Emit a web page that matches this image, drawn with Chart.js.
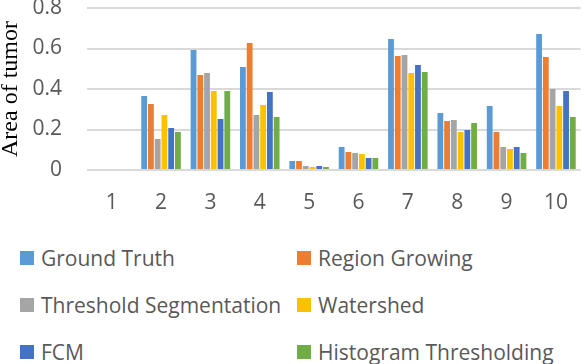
<!DOCTYPE html>
<html>
<head>
<meta charset="utf-8">
<script src="https://cdn.jsdelivr.net/npm/chart.js@4.4.1/dist/chart.umd.min.js"></script>
<style>
  body { margin: 0; background: #fff; }
  #wrap { position: relative; width: 588px; height: 364px; overflow: hidden; }
  #chartBox { position: absolute; left: 0; top: 0; width: 588px; height: 215px; }
  #legend { position: absolute; left: 20px; top: 234px; width: 568px;
    display: grid; grid-template-columns: 277px 290px; grid-auto-rows: 47px;
    font-family: "Open Sans", sans-serif; font-size: 21px; color: #595959; }
  .item { display: flex; align-items: center; white-space: nowrap; }
  .box { width: 14px; height: 14px; margin-right: 7px; flex: none; }
</style>
</head>
<body>
<div id="wrap">
  <div id="chartBox"><canvas id="tumorChart"></canvas></div>
  <div id="legend"></div>
</div>
<script>
const categories = ['1', '2', '3', '4', '5', '6', '7', '8', '9', '10'];
const seriesNames = ['Ground Truth', 'Region Growing', 'Threshold Segmentation', 'Watershed', 'FCM', 'Histogram Thresholding'];
const groundTruth   = [0, 0.365, 0.593, 0.509, 0.044, 0.114, 0.647, 0.281, 0.316, 0.672];
const regionGrowing = [0, 0.326, 0.469, 0.627, 0.044, 0.089, 0.563, 0.242, 0.188, 0.558];
const thresholdSeg  = [0, 0.153, 0.479, 0.272, 0.020, 0.084, 0.568, 0.247, 0.114, 0.400];
const watershed     = [0, 0.272, 0.390, 0.321, 0.015, 0.079, 0.479, 0.188, 0.104, 0.316];
const fcm           = [0, 0.207, 0.252, 0.385, 0.020, 0.059, 0.519, 0.198, 0.114, 0.390];
const histThresh    = [0, 0.188, 0.390, 0.262, 0.015, 0.059, 0.484, 0.232, 0.084, 0.262];
const yTicks = [0, 0.2, 0.4, 0.6, 0.8];
const colors = ['#5B9BD5', '#ED7D31', '#A5A5A5', '#FFC000', '#4472C4', '#70AD47'];

const allSeries = [groundTruth, regionGrowing, thresholdSeg, watershed, fcm, histThresh];

const ctx = document.getElementById('tumorChart').getContext('2d');

new Chart(ctx, {
    type: 'bar',
    data: {
        labels: categories,
        datasets: allSeries.map((values, i) => ({
            label: seriesNames[i],
            data: values,
            backgroundColor: colors[i],
            categoryPercentage: 0.82,
            barPercentage: 0.86
        }))
    },
    options: {
        responsive: true,
        maintainAspectRatio: false,
        animation: false,
        layout: { padding: { left: 0, right: 1, top: 0, bottom: 0 } },
        plugins: {
            legend: { display: false },
            tooltip: { enabled: false }
        },
        scales: {
            x: {
                grid: { display: false, drawTicks: false },
                border: { display: false },
                ticks: {
                    color: '#595959',
                    padding: 20,
                    font: { family: 'Open Sans', size: 21 }
                },
                afterFit: scale => { scale.height = 45; }
            },
            y: {
                min: 0,
                max: 0.8,
                afterBuildTicks: scale => { scale.ticks = yTicks.map(v => ({ value: v })); },
                grid: { color: '#D9D9D9', lineWidth: 2, drawTicks: false },
                border: { display: false },
                ticks: {
                    color: '#595959',
                    padding: 25,
                    font: { family: 'Open Sans', size: 21 },
                    callback: v => v === 0 ? '0' : v.toFixed(1)
                },
                title: {
                    display: true,
                    text: 'Area of tumor',
                    color: '#000',
                    padding: { top: 0, bottom: 0 },
                    font: { family: 'Liberation Serif', size: 24, lineHeight: 0.9 }
                },
                afterFit: scale => {
                    // tick padding is only meant for the gap to the plot, not for the top
                    scale.width = 87;
                    scale.paddingTop = 8;
                    scale.paddingBottom = 0;
                }
            }
        }
    }
});

// legend in two columns, like the original
const legendEl = document.getElementById('legend');
seriesNames.forEach((name, i) => {
    const item = document.createElement('div');
    item.className = 'item';
    const box = document.createElement('span');
    box.className = 'box';
    box.style.background = colors[i];
    const label = document.createElement('span');
    label.textContent = name;
    item.appendChild(box);
    item.appendChild(label);
    legendEl.appendChild(item);
});
</script>
</body>
</html>
